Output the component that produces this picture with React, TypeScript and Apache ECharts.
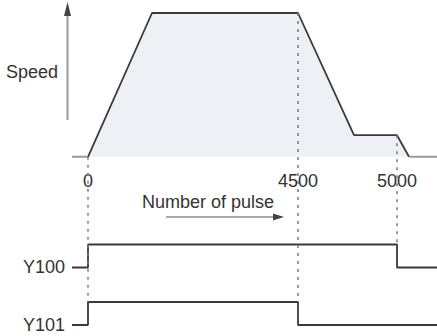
import React, { useEffect, useRef } from "react";
import * as echarts from "echarts";

// Schematic horizontal positions (not to scale) and speed levels
const profileX = [0, 64, 210, 266, 309, 321];
const profileSpeed = [0, 100, 100, 15, 15, 0];

// Pulse tick labels and where they sit on the schematic axis
const pulseTickPos = [0, 210, 309];
const pulseTickLabels = ["0", "4500", "5000"];

// Output signals (0 = off, 1 = on), switched at the given positions
const y100X = [-16, 0, 309, 349];
const y100State = [0, 1, 0, 0];
const y101X = [-16, 0, 210, 349];
const y101State = [0, 1, 0, 0];

const signalNames = ["Y100", "Y101"];

export default function App() {
  const ref = useRef<HTMLDivElement>(null);
  useEffect(() => {
    document.body.style.margin = "0";
    const chart = echarts.init(ref.current!, null, { renderer: "svg" });
    const X_MIN = -16;
    const X_MAX = 349;
    const Y100_BASE = -77;
    const Y101_BASE = -117;
    const AMP = 16;
    const lineColor = "#3a3a3a";
    const textColor = "#333";
    const font = "Liberation Sans, Arial, sans-serif";

    const profile = profileX.map((x, i) => [x, profileSpeed[i]]);
    const sig = (xs: number[], st: number[], base: number) =>
      xs.map((x, i) => [x, base + st[i] * AMP]);

    const option: any = {
      animation: false,
      grid: { left: 72, right: 0, top: 13, bottom: 11, containLabel: false, outerBoundsMode: "none" },
      xAxis: {
        type: "value",
        min: X_MIN,
        max: X_MAX,
        position: "bottom",
        offset: -168,
        axisLine: { show: false, onZero: false },
        axisTick: { show: false },
        splitLine: { show: false },
        axisLabel: {
          customValues: pulseTickPos,
          formatter: (v: number) => {
            const i = pulseTickPos.indexOf(v);
            return i >= 0 ? pulseTickLabels[i] : "";
          },
          margin: 15,
          fontSize: 18,
          color: textColor,
          fontFamily: font,
        },
      },
      yAxis: {
        type: "value",
        min: Y101_BASE,
        max: 100,
        axisLine: { show: false },
        axisTick: { show: false },
        splitLine: { show: false },
        axisLabel: {
          customValues: [Y100_BASE, Y101_BASE],
          formatter: (v: number) => (v === Y100_BASE ? signalNames[0] : v === Y101_BASE ? signalNames[1] : ""),
          margin: 7,
          fontSize: 18,
          color: textColor,
          fontFamily: font,
        },
      },
      series: [
        {
          type: "line",
          data: profile,
          symbol: "none",
          lineStyle: { color: lineColor, width: 1.8 },
          areaStyle: { color: "#eef0f5", opacity: 1 },
          z: 2,
          markLine: {
            silent: true,
            symbol: ["none", "none"],
            label: { show: false },
            lineStyle: { color: "#7a7a7a", width: 1.5, type: [3, 5] },
            data: [
              [{ coord: [pulseTickPos[0], 0] }, { coord: [pulseTickPos[0], Y101_BASE + AMP] }],
              [{ coord: [pulseTickPos[1], 100] }, { coord: [pulseTickPos[1], Y101_BASE + AMP] }],
              [{ coord: [pulseTickPos[2], 15] }, { coord: [pulseTickPos[2], Y100_BASE + AMP] }],
            ],
          },
        },
        {
          type: "line",
          data: [[X_MIN, 0], [profileX[0], 0], [null, null], [profileX[profileX.length - 1], 0], [X_MAX, 0]],
          symbol: "none",
          connectNulls: false,
          lineStyle: { color: "#9a9a9a", width: 2 },
          z: 3,
        },
        {
          type: "line",
          step: "end",
          data: sig(y100X, y100State, Y100_BASE),
          symbol: "none",
          lineStyle: { color: lineColor, width: 1.8 },
          z: 4,
        },
        {
          type: "line",
          step: "end",
          data: sig(y101X, y101State, Y101_BASE),
          symbol: "none",
          lineStyle: { color: lineColor, width: 1.8 },
          z: 4,
        },
      ],
      graphic: [
        { type: "line", shape: { x1: 67.5, y1: 14, x2: 67.5, y2: 120 }, style: { stroke: "#9a9a9a", lineWidth: 2 } },
        { type: "polygon", shape: { points: [[67.5, 2], [64, 16], [71, 16]] }, style: { fill: "#444" } },
        {
          type: "text",
          x: 6,
          y: 72,
          style: { text: "Speed", fontSize: 18, fontFamily: font, fill: textColor, verticalAlign: "middle", align: "left" },
        },
        {
          type: "text",
          x: 142,
          y: 202,
          style: { text: "Number of pulse", fontSize: 18, fontFamily: font, fill: textColor, verticalAlign: "middle", align: "left" },
        },
        { type: "line", shape: { x1: 166, y1: 217, x2: 275, y2: 217 }, style: { stroke: "#8a8a8a", lineWidth: 1.5 } },
        { type: "polygon", shape: { points: [[284, 217], [273, 213.5], [273, 220.5]] }, style: { fill: "#444" } },
      ],
    };
    chart.setOption(option);
    return () => chart.dispose();
  }, []);
  return <div ref={ref} style={{ width: 437, height: 336 }} />;
}
